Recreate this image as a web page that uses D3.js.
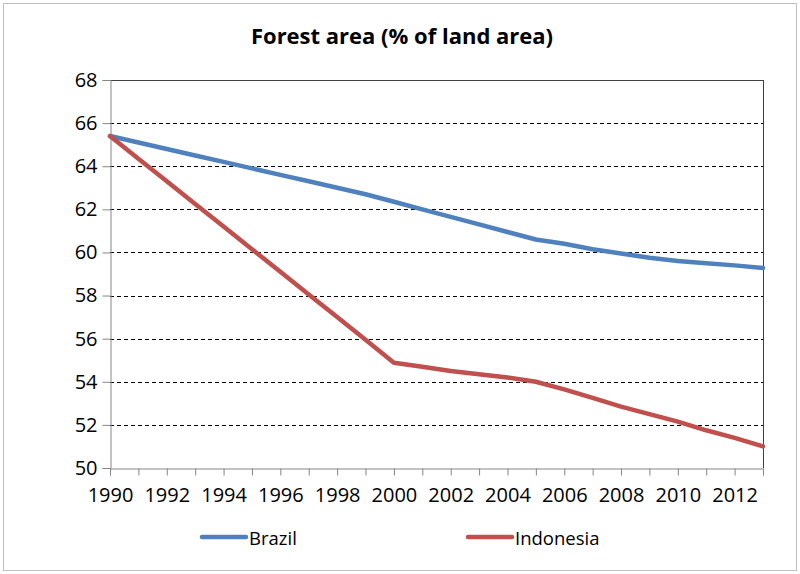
<!DOCTYPE html>
<html>
<head>
<meta charset="utf-8">
<script src="https://cdn.jsdelivr.net/npm/d3@7"></script>
<style>
  html, body { margin: 0; padding: 0; background: #fff; }
  svg { display: block; font-family: "Open Sans", "Noto Sans", sans-serif; }
</style>
</head>
<body>
<svg id="chart" width="800" height="574"></svg>
<script>
// Forest area as a share of land area, 1990–2013
const years = d3.range(1990, 2014);
const brazil = [65.4, 65.1, 64.8, 64.5, 64.2, 63.9, 63.6, 63.3, 63.0, 62.7, 62.35,
                62.0, 61.65, 61.3, 60.95, 60.6, 60.4, 60.15, 59.95, 59.75, 59.6, 59.5, 59.4, 59.28];
const indonesia = [65.4, 64.35, 63.3, 62.25, 61.2, 60.15, 59.1, 58.05, 57.0, 55.95, 54.88,
                   54.7, 54.5, 54.35, 54.2, 54.0, 53.65, 53.25, 52.85, 52.5, 52.15, 51.75, 51.4, 51.0];
const seriesNames = ["Brazil", "Indonesia"];
const seriesColors = ["#4F81BD", "#C0504D"];
const yTicks = [50, 52, 54, 56, 58, 60, 62, 64, 66, 68];
const xLabels = d3.range(1990, 2013, 2);

const svg = d3.select("#chart");

// outer frame
svg.append("rect").attr("x", 3.5).attr("y", 3.5).attr("width", 793).attr("height", 567)
  .attr("fill", "#fff").attr("stroke", "#bfbfbf").attr("stroke-width", 1);

const plot = { left: 110, right: 763, top: 80, bottom: 468 };
const x = d3.scaleLinear().domain([1990, 2013]).range([plot.left, plot.right]);
const y = d3.scaleLinear().domain([50, 68]).range([plot.bottom, plot.top]);

// title
svg.append("text").attr("x", 402).attr("y", 44).attr("text-anchor", "middle")
  .attr("font-size", 22).attr("font-weight", "bold").attr("fill", "#000")
  .text("Forest area (% of land area)");

// dashed gridlines
svg.append("g").selectAll("line").data(yTicks.filter(v => v > 50 && v < 68)).join("line")
  .attr("x1", plot.left).attr("x2", plot.right)
  .attr("y1", d => Math.round(y(d)) + 0.5).attr("y2", d => Math.round(y(d)) + 0.5)
  .attr("stroke", "#000").attr("stroke-width", 1).attr("stroke-dasharray", "4,3");

// top and right border of the plot
svg.append("line").attr("x1", plot.left).attr("x2", plot.right)
  .attr("y1", plot.top + 0.5).attr("y2", plot.top + 0.5).attr("stroke", "#404040");
svg.append("line").attr("x1", plot.right + 0.5).attr("x2", plot.right + 0.5)
  .attr("y1", plot.top).attr("y2", plot.bottom).attr("stroke", "#404040");

// y axis
const yAxis = d3.axisLeft(y).tickValues(yTicks).tickSize(8).tickPadding(5).tickFormat(d3.format("d"));
const gy = svg.append("g").attr("transform", `translate(${plot.left + 0.5},0)`).call(yAxis);
gy.select(".domain").attr("stroke", "#868686");
gy.selectAll(".tick line").attr("stroke", "#868686");
gy.selectAll(".tick text").attr("font-size", 20).attr("fill", "#000")
  .attr("font-family", "'Open Sans', sans-serif");

// x axis: a tick for every year, labels every other year
const xAxis = d3.axisBottom(x).tickValues(years).tickSize(7).tickPadding(12)
  .tickFormat(d => xLabels.includes(d) ? String(d) : "");
const gx = svg.append("g").attr("transform", `translate(0,${plot.bottom + 0.5})`).call(xAxis);
gx.select(".domain").attr("stroke", "#868686");
gx.selectAll(".tick line").attr("stroke", "#868686");
gx.selectAll(".tick text").attr("font-size", 20).attr("fill", "#000")
  .attr("font-family", "'Open Sans', sans-serif");

// series lines
const line = d3.line().x((d, i) => x(years[i])).y(d => y(d));
[brazil, indonesia].forEach((vals, i) => {
  svg.append("path").datum(vals).attr("d", line)
    .attr("fill", "none").attr("stroke", seriesColors[i]).attr("stroke-width", 4.5)
    .attr("stroke-linejoin", "round").attr("stroke-linecap", "round");
});

// legend
const legendX = [202, 468];
seriesNames.forEach((name, i) => {
  const g = svg.append("g").attr("transform", `translate(${legendX[i]},537)`);
  g.append("line").attr("x1", 0).attr("x2", 44).attr("stroke", seriesColors[i])
    .attr("stroke-width", 4.5).attr("stroke-linecap", "round");
  g.append("text").attr("x", 47).attr("y", 8).attr("font-size", 18.5).attr("fill", "#000")
    .text(name);
});
</script>
</body>
</html>
